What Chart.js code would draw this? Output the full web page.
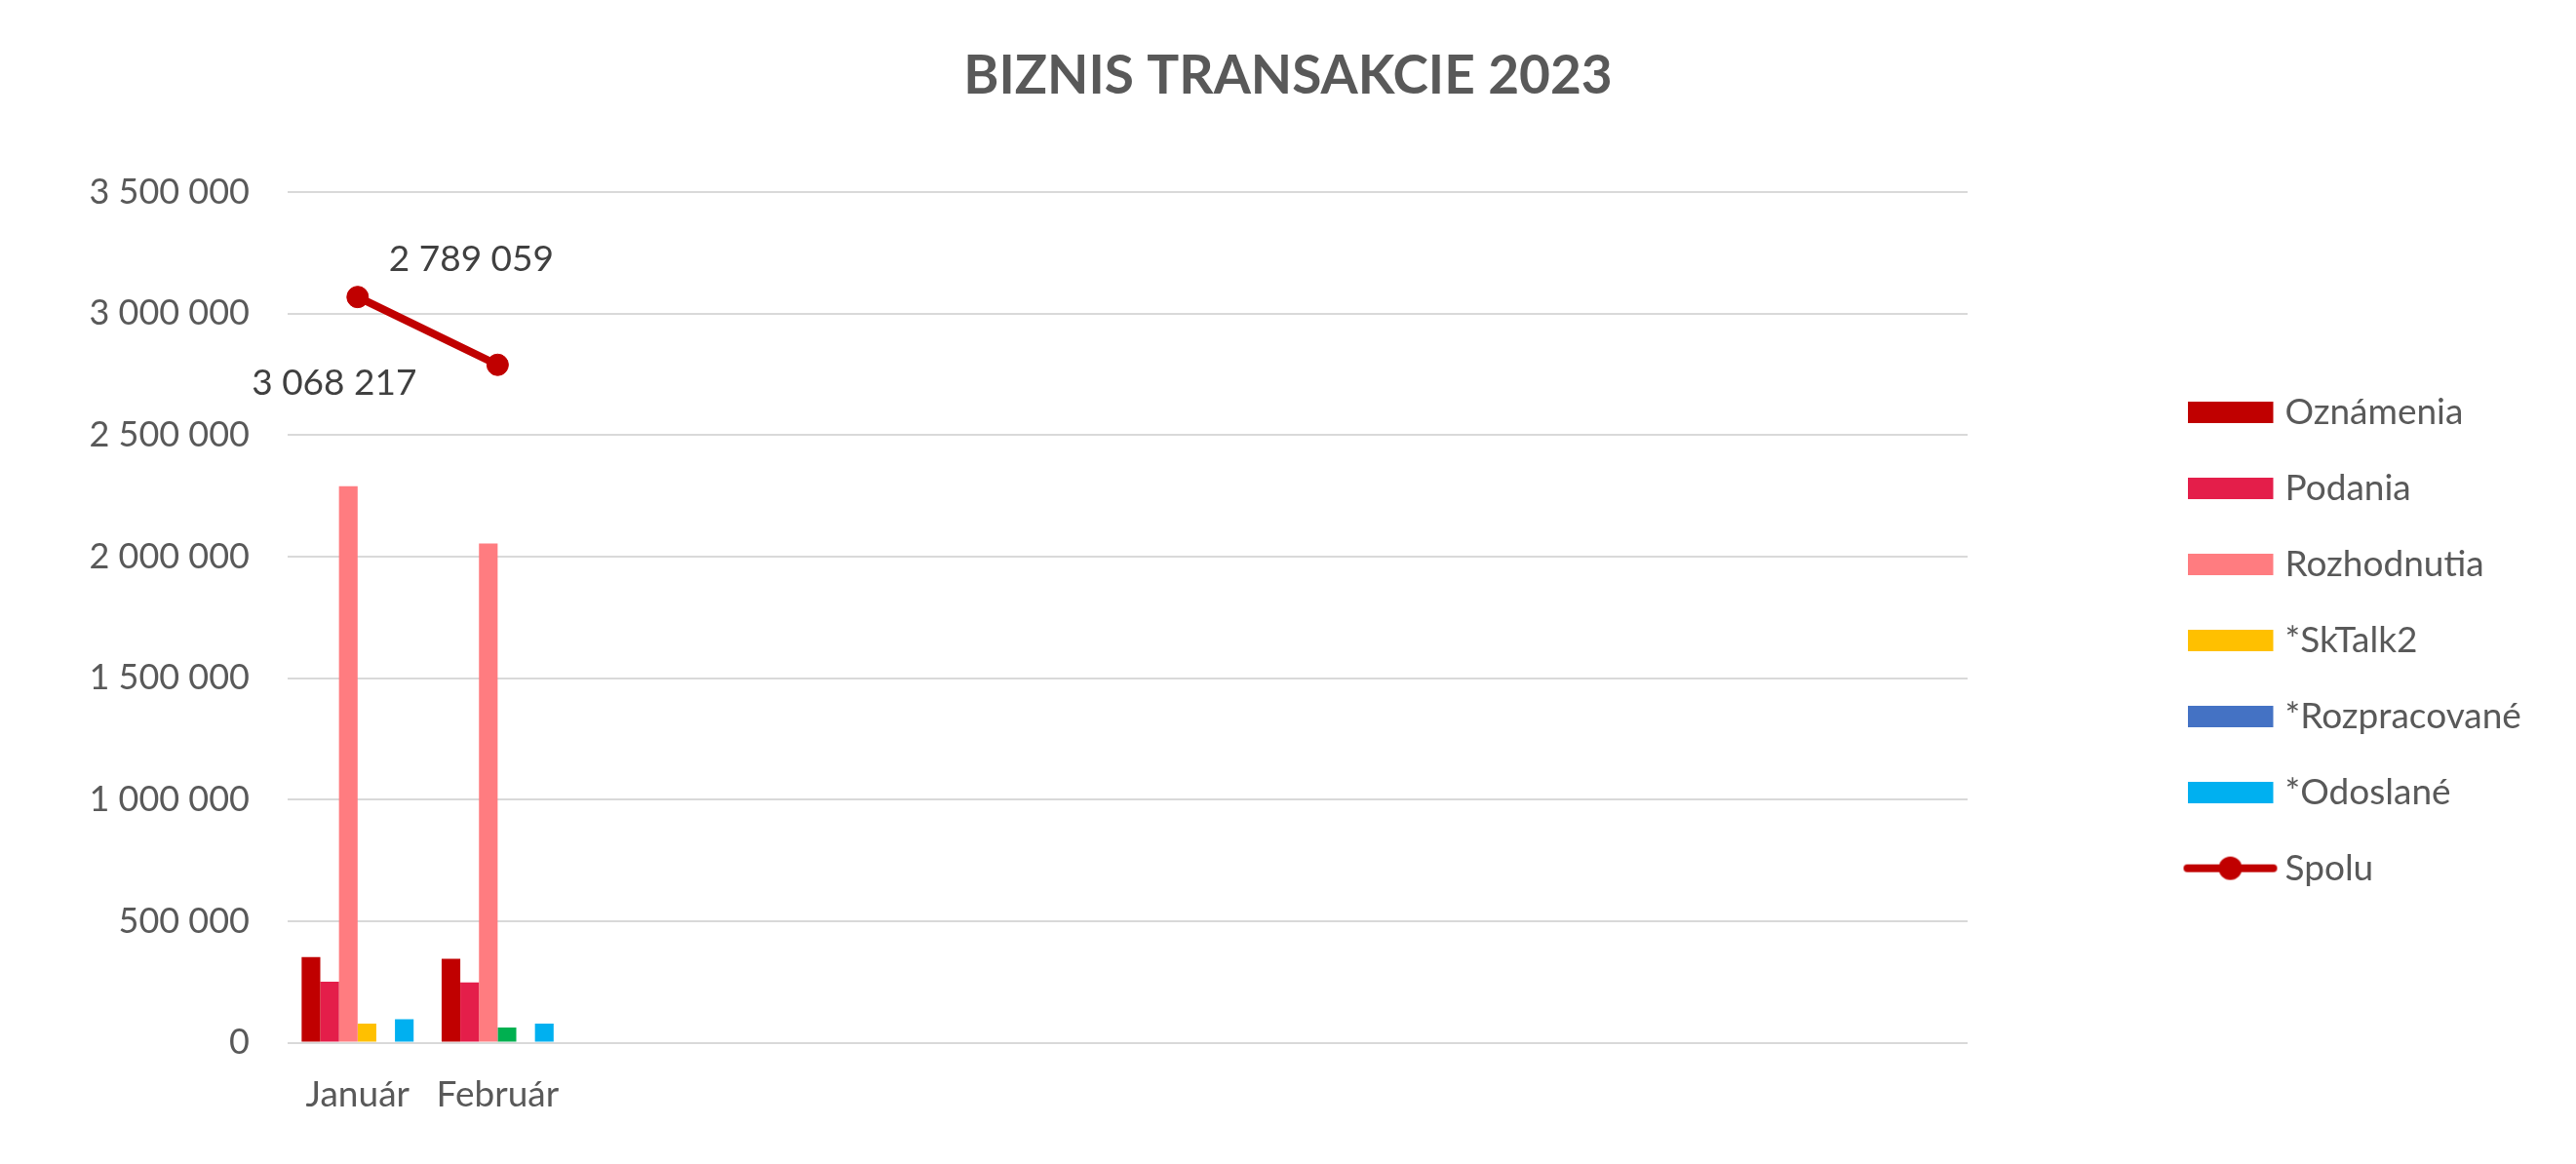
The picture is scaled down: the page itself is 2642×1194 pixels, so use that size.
<!DOCTYPE html>
<html>
<head>
<meta charset="utf-8">
<script src="https://cdn.jsdelivr.net/npm/chart.js@4.4.1/dist/chart.umd.min.js"></script>
<style>
html, body { margin: 0; padding: 0; background: #ffffff; }
#wrap { width: 2642px; height: 1194px; position: relative; }
</style>
</head>
<body>
<div id="wrap"><canvas id="transakcieChart"></canvas></div>
<script>
// udaje za rok 2023 (vyplnene len januar a februar)
const mesiace = ["Január", "Február", "", "", "", "", "", "", "", "", "", ""];
const oznamenia = [352000, 345000, null, null, null, null, null, null, null, null, null, null];
const podania = [251000, 248000, null, null, null, null, null, null, null, null, null, null];
const rozhodnutia = [2290000, 2054000, null, null, null, null, null, null, null, null, null, null];
const skTalk2 = [79000, 63000, null, null, null, null, null, null, null, null, null, null];
const rozpracovane = [0, 0, null, null, null, null, null, null, null, null, null, null];
const odoslane = [96217, 79059, null, null, null, null, null, null, null, null, null, null];
const spolu = [3068217, 2789059, null, null, null, null, null, null, null, null, null, null];
const osY = { min: 0, max: 3500000, krok: 500000 };

const FONT = "Lato";
const SIVA = "#595959";

function cislo(v) {
    return String(Math.round(v)).replace(/\B(?=(\d{3})+(?!\d))/g, " ");
}

// znacky do legendy (platno je o 2.5 px posunute, aby text bol blizsie)
function obdlznik(farba) {
    const c = document.createElement("canvas");
    c.width = 93; c.height = 22;
    const x = c.getContext("2d");
    x.fillStyle = farba;
    x.fillRect(0, 0, 88, 22);
    return c;
}

function ciaraSBodom(farba) {
    const c = document.createElement("canvas");
    c.width = 105; c.height = 26;
    const x = c.getContext("2d");
    x.strokeStyle = farba;
    x.lineWidth = 8;
    x.lineCap = "round";
    x.beginPath();
    x.moveTo(6, 13);
    x.lineTo(94, 13);
    x.stroke();
    x.fillStyle = farba;
    x.beginPath();
    x.arc(50, 13, 12, 0, Math.PI * 2);
    x.fill();
    return c;
}

// posun popiskov hodnot Spolu voci bodu
const posunPopisku = [[-24, 88], [-27, -108]];

const spoluLabels = {
    id: "spoluLabels",
    afterDatasetsDraw(chart) {
        const idx = chart.data.datasets.findIndex((d) => d.label === "Spolu");
        const meta = chart.getDatasetMeta(idx);
        if (!meta || !meta.data) return;
        const { ctx } = chart;
        ctx.save();
        ctx.font = `37px ${FONT}`;
        ctx.fillStyle = "#404040";
        ctx.textAlign = "center";
        ctx.textBaseline = "middle";
        meta.data.forEach((pt, i) => {
            const v = spolu[i];
            if (v == null) return;
            const o = posunPopisku[i] || [0, -40];
            ctx.fillText(cislo(v), pt.x + o[0], pt.y + o[1]);
        });
        ctx.restore();
    }
};

// pevna sirka legendy, aby graf koncil tam kde v predlohe
const legendWidth = {
    id: "legendWidth",
    beforeLayout(chart) {
        const lg = chart.legend;
        if (!lg || lg._pevna) return;
        const fit = lg.fit;
        lg.fit = function() {
            fit.call(this);
            this.width = 428;
        };
        lg._pevna = true;
    }
};

const farbaSkTalk = (c) => (c.type === "data" && c.dataIndex === 1 ? "#00B050" : "#FFC000");

const chart = new Chart(document.getElementById("transakcieChart"), {
    plugins: [spoluLabels, legendWidth],
    data: {
        labels: mesiace,
        datasets: [
            { type: "bar", label: "Oznámenia", data: oznamenia, yAxisID: "y", order: 1, backgroundColor: "#C00000" },
            { type: "bar", label: "Podania", data: podania, yAxisID: "y", order: 1, backgroundColor: "#E41E4A" },
            { type: "bar", label: "Rozhodnutia", data: rozhodnutia, yAxisID: "y", order: 1, backgroundColor: "#FF7C80" },
            { type: "bar", label: "*SkTalk2", data: skTalk2, yAxisID: "y", order: 1, backgroundColor: farbaSkTalk },
            { type: "bar", label: "*Rozpracované", data: rozpracovane, yAxisID: "y", order: 1, backgroundColor: "#4472C4" },
            { type: "bar", label: "*Odoslané", data: odoslane, yAxisID: "y", order: 1, backgroundColor: "#00B0F0" },
            { type: "line", label: "Spolu", data: spolu, yAxisID: "y", order: 0, borderColor: "#C00000", backgroundColor: "#C00000", borderWidth: 8, borderCapStyle: "round", pointRadius: 11, pointBackgroundColor: "#C00000", pointBorderColor: "#C00000", pointBorderWidth: 1, tension: 0, fill: false }
        ]
    },
    options: {
        responsive: true,
        maintainAspectRatio: false,
        animation: false,
        layout: { padding: { left: 0, right: 0, top: 0, bottom: 26 } },
        datasets: { bar: { categoryPercentage: 0.8, barPercentage: 1.0 } },
        plugins: {
            title: {
                display: true,
                text: "BIZNIS TRANSAKCIE 2023",
                color: SIVA,
                font: { family: FONT, size: 55, weight: "bold" },
                padding: { top: 45, bottom: 86 }
            },
            legend: {
                position: "right",
                align: "center",
                title: { display: true, text: " ", font: { size: 1 }, padding: { top: 144, bottom: 0 } },
                labels: {
                    sort: (a, b) => a.datasetIndex - b.datasetIndex,
                    color: SIVA,
                    font: { family: FONT, size: 37 },
                    usePointStyle: true,
                    pointStyleWidth: 70,
                    boxHeight: 22,
                    padding: 41,
                    generateLabels(chart) {
                        const items = Chart.defaults.plugins.legend.labels.generateLabels(chart);
                        items.forEach((it) => {
                            const ds = chart.data.datasets[it.datasetIndex];
                            if (ds.type === "line") {
                                it.pointStyle = ciaraSBodom(ds.borderColor);
                            } else {
                                const bg = typeof ds.backgroundColor === "function" ? "#FFC000" : ds.backgroundColor;
                                it.pointStyle = obdlznik(bg);
                            }
                        });
                        return items;
                    }
                }
            },
            tooltip: { enabled: false }
        },
        scales: {
            x: {
                grid: { display: false },
                border: { display: false },
                ticks: { autoSkip: false, maxRotation: 0, color: SIVA, font: { family: FONT, size: 37 }, padding: 23 }
            },
            y: {
                position: "left",
                min: osY.min,
                max: osY.max,
                ticks: { stepSize: osY.krok, color: SIVA, font: { family: FONT, size: 36 }, padding: 39, callback: (v) => cislo(v) },
                grid: { color: "#D9D9D9", lineWidth: 2, drawTicks: false },
                border: { display: false },
                afterFit(axis) { axis.width = 295; }
            },
            mezera: {
                axis: "y",
                position: "right",
                grid: { display: false },
                border: { display: false },
                ticks: { display: false },
                afterFit(axis) { axis.width = 196; }
            }
        }
    }
});
</script>
</body>
</html>
